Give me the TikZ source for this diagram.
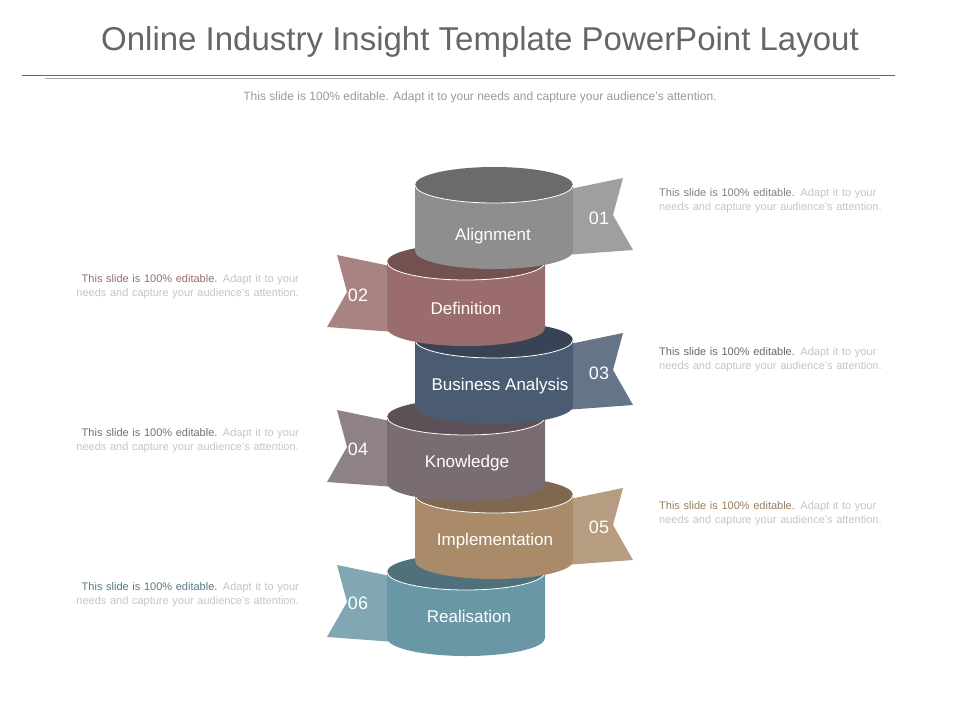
\documentclass[tikz,border=0pt]{standalone}
\usepackage{fontspec}
\setmainfont{Liberation Sans}
\begin{document}
\begin{tikzpicture}[x=1pt,y=1pt,
  lbl/.style={text=white,font=\fontsize{17}{20}\selectfont},
  num/.style={text=white,font=\fontsize{18}{20}\selectfont},
  note/.style={font=\fontsize{11}{14.5}\selectfont,text width=225pt,inner sep=0pt}]
\useasboundingbox (0,0) rectangle (960,-720);
\definecolor{cA}{HTML}{8E8E8E}\definecolor{cB}{HTML}{9A6C6C}
\definecolor{cC}{HTML}{4B5B72}\definecolor{cD}{HTML}{7A6C73}
\definecolor{cE}{HTML}{A98B69}\definecolor{cF}{HTML}{6A97A6}
\definecolor{gt}{HTML}{C4C4C4}
% stage: #1 left x, #2 top y(px), #3 colour, #4 side (1 right, -1 left), #5 name
\newcommand\stagecyl[5]{%
  \pgfmathsetmacro\xl{#1}\pgfmathsetmacro\xr{#1+158}\pgfmathsetmacro\xc{#1+79}
  \ifnum#4=1
    \fill[#3!85!white] (\xr-8,-#2-5) -- (\xr+50,-#2+7) -- (\xr+40,-#2-30) -- (\xr+60,-#2-65) -- (\xr-8,-#2-70) -- cycle;
  \else
    \fill[#3!85!white] (\xl+8,-#2-5) -- (\xl-50,-#2+7) -- (\xl-40,-#2-30) -- (\xl-60,-#2-65) -- (\xl+8,-#2-70) -- cycle;
  \fi
  \fill[#3] (\xl,-#2) -- (\xl,-#2-66) arc[start angle=180,end angle=360,x radius=79,y radius=18] -- (\xr,-#2) -- cycle;
  \fill[#3!75!black] (\xc,-#2) ellipse[x radius=79,y radius=18];
  \draw[white,line width=0.8pt] (\xl,-#2) arc[start angle=180,end angle=360,x radius=79,y radius=18];
}
\stagecyl{387}{572}{cF}{-1}{f}
\stagecyl{415}{495}{cE}{1}{e}
\stagecyl{387}{417}{cD}{-1}{d}
\stagecyl{415}{340}{cC}{1}{c}
\stagecyl{387}{262}{cB}{-1}{b}
\stagecyl{415}{185}{cA}{1}{a}
\node[lbl] (la) at (493,-236) {Alignment};
\node[lbl] (lb) at (466,-308) {Definition};
\node[lbl] (lc) at (500,-386) {Business Analysis};
\node[lbl] (ld) at (467,-463) {Knowledge};
\node[lbl] (le) at (495,-541) {Implementation};
\node[lbl] (lf) at (469,-616) {Realisation};
\node[num] (na) at (599,-218) {01};
\node[num] (nb) at (358,-295) {02};
\node[num] (nc) at (599,-373) {03};
\node[num] (nd) at (358,-449) {04};
\node[num] (ne) at (599,-527) {05};
\node[num] (nf) at (358,-603) {06};
\node[note,anchor=north west,align=left] (ta) at (659,-188) {\textcolor{cA!90!black}{This slide is 100\% editable.} \textcolor{gt}{Adapt it to your needs and capture your audience's attention.}};
\node[note,anchor=north west,align=left] (tc) at (659,-347) {\textcolor{cC!60!gray}{This slide is 100\% editable.} \textcolor{gt}{Adapt it to your needs and capture your audience's attention.}};
\node[note,anchor=north west,align=left] (te) at (659,-501) {\textcolor{cE!90!black}{This slide is 100\% editable.} \textcolor{gt}{Adapt it to your needs and capture your audience's attention.}};
\node[note,anchor=north east,align=right] (tb) at (299,-274) {\textcolor{cB}{This slide is 100\% editable.} \textcolor{gt}{Adapt it to your needs and capture your audience's attention.}};
\node[note,anchor=north east,align=right] (td) at (299,-428) {\textcolor{cD}{This slide is 100\% editable.} \textcolor{gt}{Adapt it to your needs and capture your audience's attention.}};
\node[note,anchor=north east,align=right] (tf) at (299,-582) {\textcolor{cF!80!black}{This slide is 100\% editable.} \textcolor{gt}{Adapt it to your needs and capture your audience's attention.}};
\node[text=black!60,font=\fontsize{33}{38}\selectfont] (title) at (480,-42) {Online Industry Insight Template PowerPoint Layout};
\draw[black!60,line width=0.8pt] (22,-75) -- (895,-75);
\draw[black!35,line width=0.6pt] (45,-78) -- (880,-78);
\node[text=black!40,font=\fontsize{12}{14}\selectfont] (sub) at (480,-97) {This slide is 100\% editable. Adapt it to your needs and capture your audience's attention.};
\end{tikzpicture}
\end{document}
